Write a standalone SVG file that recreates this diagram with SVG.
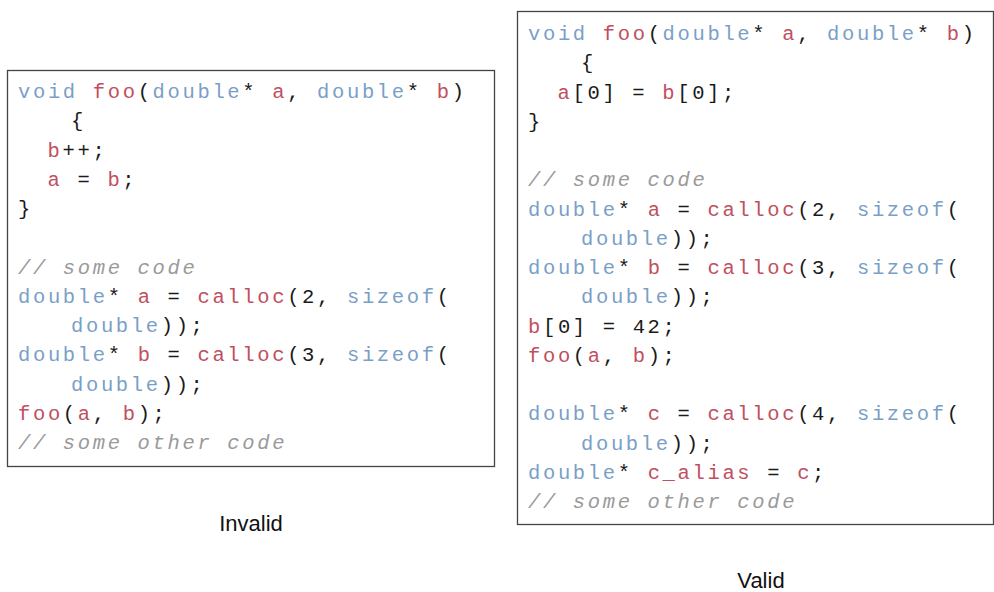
<svg xmlns="http://www.w3.org/2000/svg" width="994" height="592" viewBox="0 0 994 592">
<style>
.code{font-family:"Liberation Mono","Courier New",monospace;font-size:20.5px;letter-spacing:2.65px;fill:#1a1a1a;white-space:pre}
.k{fill:#7a9fc7}
.r{fill:#c0505f}
.c{fill:#9a9a9a;font-style:italic}
.box{fill:#fff;stroke:#444;stroke-width:1.3}
.lbl{font-family:"Liberation Sans",Arial,sans-serif;font-size:22px;fill:#111;text-anchor:middle}
</style>
<rect width="994" height="592" fill="#fff"/>
<g id="invalid">
<rect class="box" x="7.5" y="70.5" width="487" height="396"/>
<text class="code" xml:space="preserve">
<tspan x="18" y="98"><tspan class="k">void</tspan> <tspan class="r">foo</tspan>(<tspan class="k">double</tspan>* <tspan class="r">a</tspan>, <tspan class="k">double</tspan>* <tspan class="r">b</tspan>)</tspan>
<tspan x="71" y="127.25">{</tspan>
<tspan x="47.6" y="156.5"><tspan class="r">b</tspan>++;</tspan>
<tspan x="47.6" y="185.75"><tspan class="r">a</tspan> = <tspan class="r">b</tspan>;</tspan>
<tspan x="18" y="215">}</tspan>
<tspan x="18" y="273.5" class="c">// some code</tspan>
<tspan x="18" y="302.75"><tspan class="k">double</tspan>* <tspan class="r">a</tspan> = <tspan class="r">calloc</tspan>(2, <tspan class="k">sizeof</tspan>(</tspan>
<tspan x="71" y="332"><tspan class="k">double</tspan>));</tspan>
<tspan x="18" y="361.25"><tspan class="k">double</tspan>* <tspan class="r">b</tspan> = <tspan class="r">calloc</tspan>(3, <tspan class="k">sizeof</tspan>(</tspan>
<tspan x="71" y="390.5"><tspan class="k">double</tspan>));</tspan>
<tspan x="18" y="419.75"><tspan class="r">foo</tspan>(<tspan class="r">a</tspan>, <tspan class="r">b</tspan>);</tspan>
<tspan x="18" y="449" class="c">// some other code</tspan>
</text>
</g>
<g id="valid">
<rect class="box" x="517.5" y="11.5" width="476" height="513"/>
<text class="code" xml:space="preserve">
<tspan x="528" y="40"><tspan class="k">void</tspan> <tspan class="r">foo</tspan>(<tspan class="k">double</tspan>* <tspan class="r">a</tspan>, <tspan class="k">double</tspan>* <tspan class="r">b</tspan>)</tspan>
<tspan x="581" y="69.25">{</tspan>
<tspan x="557.6" y="98.5"><tspan class="r">a</tspan>[0] = <tspan class="r">b</tspan>[0];</tspan>
<tspan x="528" y="127.75">}</tspan>
<tspan x="528" y="186.25" class="c">// some code</tspan>
<tspan x="528" y="215.5"><tspan class="k">double</tspan>* <tspan class="r">a</tspan> = <tspan class="r">calloc</tspan>(2, <tspan class="k">sizeof</tspan>(</tspan>
<tspan x="581" y="244.75"><tspan class="k">double</tspan>));</tspan>
<tspan x="528" y="274"><tspan class="k">double</tspan>* <tspan class="r">b</tspan> = <tspan class="r">calloc</tspan>(3, <tspan class="k">sizeof</tspan>(</tspan>
<tspan x="581" y="303.25"><tspan class="k">double</tspan>));</tspan>
<tspan x="528" y="332.5"><tspan class="r">b</tspan>[0] = 42;</tspan>
<tspan x="528" y="361.75"><tspan class="r">foo</tspan>(<tspan class="r">a</tspan>, <tspan class="r">b</tspan>);</tspan>
<tspan x="528" y="420.25"><tspan class="k">double</tspan>* <tspan class="r">c</tspan> = <tspan class="r">calloc</tspan>(4, <tspan class="k">sizeof</tspan>(</tspan>
<tspan x="581" y="449.5"><tspan class="k">double</tspan>));</tspan>
<tspan x="528" y="478.75"><tspan class="k">double</tspan>* <tspan class="r">c_alias</tspan> = <tspan class="r">c</tspan>;</tspan>
<tspan x="528" y="508" class="c">// some other code</tspan>
</text>
</g>
<g id="labels">
<text class="lbl" x="251" y="531">Invalid</text>
<text class="lbl" x="761" y="588">Valid</text>
</g>
</svg>
